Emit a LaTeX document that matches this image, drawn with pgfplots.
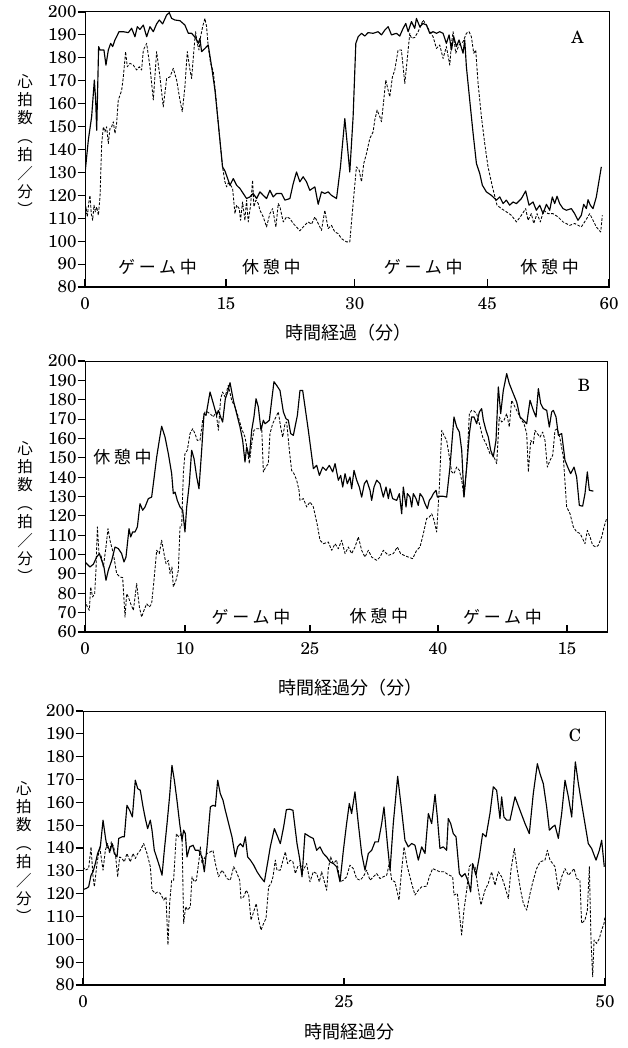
\documentclass[border=0pt]{standalone}
\usepackage{fontspec}
\setmainfont{TeX Gyre Schola}
\newfontfamily\jp{Noto Sans CJK JP}
\newfontfamily\jpw{Noto Sans CJK JP}[LetterSpace=22]
\usepackage{pgfplots}
\pgfplotsset{compat=1.18}

\pgfplotsset{
  panel/.style={
    scale only axis,
    axis line style={line width=1pt},
    xtick pos=bottom, ytick pos=left,
    xtick align=inside, ytick align=outside,
    major tick length=7.5pt,
    every tick/.style={line width=1.1pt, black},
    ytick distance=10,
    /pgf/number format/assume math mode=true,
    tick label style={font=\fontsize{17}{18}\selectfont},
    xticklabel style={yshift=-7pt},
    yticklabel style={xshift=2.5pt},
    clip=true,
  },
}
\tikzset{
  hr/.style={black, line width=1.15pt, line join=round},
  hd/.style={black, line width=0.85pt, dash pattern=on 2.8pt off 1.6pt, line join=round},
  jlab/.style={font=\jpw\fontsize{17}{18}\selectfont, inner sep=0pt},
}

\newcommand\ylab[1]{\node[font=\jp\fontsize{15.5}{18.4}\selectfont, align=center, inner sep=0pt] at #1 {心\\拍\\数\\︵\\拍\\／\\分\\︶};}

\begin{document}
\begin{tikzpicture}
\useasboundingbox (0pt,0pt) rectangle (627pt,-1048pt);

% ---------------- A ----------------
\begin{axis}[panel, at={(85pt,-287pt)}, anchor=south west,
  width=524pt, height=275pt,
  xmin=0, xmax=60, ymin=80, ymax=200,
  xtick={0,16.14,30.89,46.08,60}, xticklabels={0,15,30,45,60}]
\addplot[hr] coordinates {
(0.00,129.5)(0.38,144.1)(0.76,154.3)(1.07,170.3)(1.22,161.6)(1.34,148.4)(1.56,184.9)(1.72,183.4)
(2.17,183.4)(2.40,176.8)(2.67,183.4)(2.94,186.3)(3.17,184.9)(3.43,187.8)(3.62,189.2)(3.89,191.4)
(4.39,191.4)(4.96,191.0)(5.34,192.9)(5.72,189.2)(5.99,193.6)(6.29,192.4)(6.68,194.3)(7.06,189.2)
(7.44,193.6)(7.82,191.4)(8.20,194.8)(8.51,196.5)(8.89,194.8)(9.35,198.7)(9.65,199.7)(9.92,197.2)
(10.30,196.5)(10.87,196.2)(11.44,194.3)(11.83,190.7)(12.21,190.7)(12.70,188.5)(12.97,186.3)(13.16,188.5)
(13.35,182.7)(13.73,184.1)(14.11,185.6)(14.50,176.1)(14.88,165.9)(15.26,151.4)(15.75,132.4)(16.02,130.7)
(16.40,126.6)(16.59,124.4)(16.98,127.3)(17.36,124.4)(17.74,123.0)(18.12,120.8)(18.50,118.6)(18.88,119.3)
(19.26,120.8)(19.65,118.6)(20.03,121.5)(20.41,120.0)(20.79,118.6)(21.17,122.2)(21.55,119.3)(21.93,120.8)
(22.51,120.8)(22.89,117.9)(23.46,118.6)(23.84,125.1)(24.22,130.2)(24.60,125.9)(24.98,128.1)(25.36,125.9)
(25.74,122.2)(26.32,123.7)(26.70,116.1)(27.08,121.5)(27.46,120.8)(27.84,121.5)(28.22,120.0)(28.80,118.6)
(29.25,132.4)(29.75,153.5)(30.02,142.6)(30.32,130.2)(30.70,154.3)(31.01,186.3)(31.28,189.2)(31.66,190.7)
(32.04,189.5)(32.42,191.0)(32.99,190.7)(33.56,191.4)(33.95,190.0)(34.33,192.1)(34.71,193.6)(35.09,190.0)
(35.66,190.7)(36.04,189.5)(36.43,192.9)(36.73,195.0)(37.00,191.4)(37.38,195.8)(37.76,192.9)(37.95,197.2)
(38.33,193.6)(38.71,195.0)(39.10,194.3)(39.48,190.7)(39.86,191.4)(40.24,190.7)(40.62,191.4)(41.00,190.7)
(41.38,186.3)(41.69,190.0)(41.96,183.4)(42.22,189.2)(42.53,184.9)(42.83,187.8)(43.29,182.0)(43.48,187.8)
(43.67,176.1)(44.05,161.6)(44.44,147.0)(44.82,133.9)(45.20,129.5)(45.50,124.4)(45.96,121.5)(46.53,120.0)
(47.11,117.9)(47.49,119.3)(47.87,116.4)(48.25,117.9)(48.63,115.7)(49.01,117.1)(49.40,116.4)(49.97,118.6)
(50.46,121.9)(50.84,115.7)(51.30,117.1)(51.68,113.5)(52.07,115.7)(52.45,112.0)(52.83,116.1)(53.21,113.5)
(53.51,119.3)(53.78,116.4)(54.05,119.6)(54.35,116.4)(54.74,114.2)(55.12,113.5)(55.69,114.2)(56.07,112.0)
(56.45,109.1)(56.83,111.3)(57.10,116.1)(57.41,114.2)(57.60,118.1)(57.86,115.7)(58.17,114.2)(58.55,119.3)
(59.12,132.4)
};
\addplot[hd] coordinates {
(0.00,106.2)(0.11,115.0)(0.27,110.6)(0.42,116.4)(0.57,120.0)(0.72,112.0)(0.88,109.1)(1.03,115.7)
(1.18,112.8)(1.34,115.0)(1.53,111.3)(1.72,119.3)(1.91,142.6)(2.10,149.9)(2.29,147.7)(2.48,149.9)
(2.67,142.6)(2.86,149.2)(3.05,149.9)(3.24,152.1)(3.43,147.0)(3.62,151.4)(3.81,161.6)(4.01,163.7)
(4.20,165.9)(4.39,171.7)(4.65,182.7)(4.84,176.1)(5.15,177.6)(5.53,176.8)(5.91,174.7)(6.22,176.1)
(6.48,174.7)(6.68,183.4)(7.06,186.3)(7.44,176.1)(7.82,161.6)(8.20,182.7)(8.58,171.7)(8.96,158.6)
(9.35,171.0)(9.73,171.7)(10.11,175.4)(10.49,170.3)(10.87,161.6)(11.14,156.5)(11.44,167.4)(11.71,182.7)
(12.02,174.7)(12.21,171.0)(12.47,183.4)(12.66,191.4)(12.86,186.3)(13.05,183.4)(13.24,189.2)(13.47,193.6)
(13.73,197.2)(13.92,193.6)(14.11,184.9)(14.38,177.6)(14.69,174.0)(14.99,163.0)(15.37,147.0)(15.75,132.4)
(16.02,125.9)(16.21,123.7)(16.40,125.4)(16.67,124.4)(16.90,123.0)(17.17,112.0)(17.36,115.7)(17.66,114.2)
(17.81,109.1)(18.04,117.1)(18.31,109.1)(18.50,117.9)(18.69,108.4)(18.96,115.7)(19.19,126.6)(19.34,115.0)
(19.57,117.9)(19.84,116.4)(20.03,113.5)(20.41,110.6)(20.79,106.2)(21.17,112.0)(21.48,114.2)(21.86,106.2)
(22.13,116.4)(22.32,115.0)(22.70,108.4)(23.08,110.6)(23.46,109.9)(23.84,107.7)(24.22,106.2)(24.60,104.5)
(24.98,106.2)(25.55,108.4)(25.94,107.4)(26.32,110.6)(26.70,107.7)(27.08,104.7)(27.46,113.5)(27.84,105.5)
(28.22,106.9)(28.61,104.0)(28.99,103.3)(29.37,101.1)(29.94,99.7)(30.32,99.7)(30.70,116.4)(31.08,132.4)
(31.39,131.0)(31.66,125.9)(31.92,133.9)(32.23,138.2)(32.61,144.8)(32.99,147.7)(33.18,152.8)(33.45,157.2)
(33.76,154.3)(33.95,152.1)(34.21,161.6)(34.44,170.3)(34.71,165.9)(34.90,163.0)(35.20,171.7)(35.47,174.7)
(35.85,183.4)(36.23,183.4)(36.62,168.8)(37.00,183.4)(37.19,190.7)(37.38,188.5)(37.76,188.9)(38.14,191.4)
(38.41,193.6)(38.71,196.5)(39.10,194.3)(39.48,191.4)(39.86,189.2)(40.24,184.1)(40.62,185.6)(41.00,179.7)
(41.38,184.9)(41.77,176.8)(41.96,186.3)(42.15,191.4)(42.45,182.0)(42.83,185.6)(43.29,187.0)(43.67,190.7)
(43.98,191.4)(44.24,189.2)(44.51,182.0)(44.74,183.4)(45.01,168.8)(45.39,154.3)(45.77,142.6)(46.15,132.4)
(46.65,123.7)(47.18,115.7)(47.68,114.2)(48.25,112.8)(48.82,111.3)(49.40,108.4)(49.97,111.3)(50.46,114.2)
(50.73,109.1)(51.11,112.0)(51.38,107.7)(51.76,112.0)(52.14,108.4)(52.52,113.5)(53.02,112.0)(53.59,112.0)
(54.16,110.6)(54.74,108.4)(55.50,106.9)(56.07,107.7)(56.83,106.2)(57.33,109.1)(57.79,112.0)(58.17,109.1)
(58.55,106.2)(59.05,104.0)(59.24,111.3)
};
\node[jlab] at (axis cs:8.30,88.7) {ゲーム中};
\node[jlab] at (axis cs:21.34,88.7) {休憩中};
\node[jlab] at (axis cs:38.74,88.7) {ゲーム中};
\node[jlab] at (axis cs:53.2,88.7) {休憩中};
\node[font=\fontsize{17}{18}\selectfont] at (axis cs:56.4,189.1) {A};
\draw[line width=2pt] (rel axis cs:0,1) -- (rel axis cs:0,0) -- (rel axis cs:1,0);
\end{axis}
\ylab{(25pt,-145pt)}
\node[font=\jp\fontsize{18}{19}\selectfont] at (348pt,-333pt) {時間経過（分）};

% ---------------- B ----------------
\begin{axis}[panel, at={(85pt,-632pt)}, anchor=south west,
  width=522pt, height=271pt,
  xmin=0, xmax=60, ymin=60, ymax=200,
  xtick={0,11.49,25.86,40.57,55.40}, xticklabels={0,10,25,40,15}]
\addplot[hr] coordinates {
(0.00,96.2)(0.57,93.6)(0.96,95.0)(1.34,98.7)(1.65,100.5)(1.92,97.0)(2.18,93.6)(2.41,86.7)
(2.68,91.9)(3.07,97.0)(3.45,103.9)(3.83,103.1)(4.21,100.5)(4.48,96.2)(4.71,98.7)(5.06,113.4)
(5.25,109.1)(5.48,111.7)(5.75,111.7)(6.02,114.3)(6.32,126.3)(6.63,122.9)(6.90,124.6)(7.28,128.9)
(7.66,129.7)(7.93,139.2)(8.24,150.4)(8.54,159.0)(8.81,166.3)(9.20,160.7)(9.58,152.1)(9.96,141.8)
(10.15,131.5)(10.35,132.3)(10.61,128.0)(10.92,124.6)(11.23,122.9)(11.49,111.7)(11.69,124.6)(11.99,136.6)
(12.26,153.9)(12.53,149.6)(12.84,140.1)(13.10,134.0)(13.41,153.9)(13.68,172.8)(13.91,171.9)(14.37,184.0)
(14.75,178.0)(15.13,171.9)(15.33,174.5)(15.59,171.1)(15.82,168.5)(16.13,180.5)(16.40,184.0)(16.67,188.8)
(17.05,179.7)(17.43,172.8)(17.82,165.9)(18.12,159.0)(18.39,147.8)(18.58,155.6)(18.89,150.4)(19.16,164.2)
(19.42,171.1)(19.66,180.5)(19.92,176.3)(20.23,164.2)(20.50,169.4)(20.69,167.6)(20.96,168.5)(21.19,169.4)
(21.46,179.7)(21.72,189.3)(22.03,187.4)(22.41,184.8)(22.80,173.7)(23.10,170.2)(23.37,169.4)(23.64,162.5)
(23.95,161.6)(24.14,165.9)(24.41,171.9)(24.71,184.8)(25.02,184.8)(25.67,164.2)(26.25,144.4)(26.63,146.1)
(26.94,140.9)(27.32,145.2)(27.70,143.5)(28.08,146.1)(28.47,142.7)(28.74,147.0)(29.12,138.4)(29.39,140.9)
(29.62,134.9)(29.89,141.8)(30.15,136.6)(30.46,140.1)(30.65,134.0)(30.92,143.5)(31.23,138.4)(31.53,134.9)
(31.80,129.7)(32.11,136.6)(32.38,138.4)(32.76,133.2)(32.95,128.0)(33.22,134.9)(33.53,138.4)(33.91,136.6)
(34.29,129.7)(34.60,134.9)(34.87,128.9)(35.06,134.0)(35.36,128.9)(35.82,128.0)(36.13,131.5)(36.40,121.1)
(36.59,134.9)(36.90,124.6)(37.05,131.5)(37.36,129.7)(37.55,124.6)(37.74,131.5)(38.05,128.9)(38.31,125.4)
(38.51,131.5)(38.81,129.7)(39.08,126.3)(39.35,123.7)(39.58,128.0)(39.85,129.7)(40.04,131.5)(40.35,133.2)
(40.50,129.7)(40.80,130.1)(41.19,130.1)(41.57,129.7)(41.95,145.2)(42.41,171.1)(42.72,165.9)(43.03,163.3)
(43.30,153.9)(43.56,129.7)(43.87,145.2)(44.18,162.5)(44.44,171.1)(44.71,171.1)(45.02,167.6)(45.33,173.7)
(45.59,175.4)(45.79,169.4)(46.09,164.2)(46.36,160.7)(46.63,153.9)(46.93,150.4)(47.24,159.0)(47.51,186.6)
(47.78,172.8)(48.08,184.8)(48.28,189.2)(48.47,193.5)(48.77,188.3)(49.23,183.1)(49.62,178.8)(50.00,171.1)
(50.38,169.4)(50.77,167.6)(51.15,179.7)(51.53,174.5)(51.84,171.1)(52.11,185.7)(52.38,178.0)(52.68,175.4)
(53.07,174.5)(53.37,165.9)(53.64,173.7)(53.83,174.5)(54.14,171.1)(54.41,161.6)(54.79,162.5)(55.17,148.7)
(55.56,144.4)(55.82,141.8)(56.21,145.2)(56.51,140.1)(56.82,125.4)(57.20,125.0)(57.47,131.5)(57.74,142.7)
(57.97,133.2)(58.43,132.8)
};
\addplot[hd] coordinates {
(0.00,76.4)(0.27,72.9)(0.50,71.2)(0.65,83.3)(0.88,78.1)(1.11,79.8)(1.26,91.9)(1.42,114.3)
(1.61,100.5)(1.84,99.6)(2.11,93.6)(2.41,103.9)(2.64,113.4)(2.87,107.4)(3.26,100.5)(3.64,90.1)
(4.02,88.4)(4.33,88.1)(4.60,67.7)(4.79,79.8)(4.98,78.1)(5.25,74.6)(5.56,71.2)(5.94,85.0)
(6.25,72.9)(6.51,67.7)(6.78,71.2)(7.09,74.6)(7.39,72.9)(7.66,74.6)(7.93,86.7)(8.24,102.2)
(8.54,100.5)(8.81,107.4)(9.08,100.5)(9.31,95.3)(9.58,97.0)(9.77,90.1)(10.00,93.6)(10.15,83.3)
(10.46,86.7)(10.73,91.9)(10.92,114.3)(11.11,114.3)(11.30,141.8)(11.49,152.1)(11.76,153.9)(12.07,162.5)
(12.38,165.0)(12.64,162.5)(12.91,159.0)(13.22,159.0)(13.53,169.4)(13.79,173.7)(14.06,173.7)(14.37,172.8)
(14.75,171.1)(15.06,173.7)(15.33,164.2)(15.59,180.5)(15.82,184.0)(16.09,181.4)(16.47,187.4)(16.86,179.7)
(17.24,176.3)(17.62,171.1)(18.01,165.0)(18.39,160.7)(18.66,153.9)(18.89,147.0)(19.16,157.3)(19.42,164.2)
(19.73,165.0)(20.04,165.0)(20.31,165.9)(20.50,142.7)(20.77,145.2)(21.07,147.0)(21.26,162.5)(21.57,167.6)
(21.95,171.1)(22.22,173.7)(22.49,165.9)(22.72,160.7)(22.99,167.6)(23.18,168.5)(23.49,153.9)(23.75,143.5)
(24.02,141.8)(24.33,138.4)(24.60,133.2)(24.71,128.0)(25.10,128.9)(25.48,124.6)(25.86,127.2)(26.25,124.6)
(26.71,115.1)(27.01,107.4)(27.40,105.6)(27.97,106.5)(28.35,102.2)(28.74,105.6)(29.12,103.0)(29.50,107.4)
(29.89,100.5)(30.27,103.9)(30.65,100.5)(31.03,103.9)(31.42,109.1)(31.80,102.2)(32.18,98.7)(32.57,102.2)
(32.95,98.7)(33.53,97.0)(33.91,98.7)(34.29,102.2)(34.87,99.6)(35.44,100.5)(35.90,103.9)(36.28,100.5)
(36.67,99.6)(37.17,98.7)(37.66,97.9)(38.12,102.2)(38.51,103.9)(38.89,110.8)(39.27,118.6)(39.58,119.4)
(39.85,121.1)(40.12,117.7)(40.42,111.7)(40.73,134.9)(41.00,164.2)(41.26,161.6)(41.57,159.0)(41.88,150.4)
(42.15,142.7)(42.41,141.8)(42.72,145.2)(43.03,143.5)(43.30,138.4)(43.56,129.7)(43.87,145.2)(44.18,172.8)
(44.44,174.5)(44.71,174.2)(45.02,172.8)(45.33,167.6)(45.71,160.7)(46.09,157.3)(46.55,152.1)(46.93,151.3)
(47.32,147.0)(47.62,171.1)(47.89,168.5)(48.16,169.4)(48.47,172.8)(48.77,165.9)(49.04,179.7)(49.42,176.3)
(49.81,172.8)(50.19,169.4)(50.46,167.6)(50.77,162.5)(50.96,142.7)(51.23,159.0)(51.53,157.3)(51.72,164.2)
(51.99,162.5)(52.30,160.7)(52.61,163.3)(52.87,159.0)(53.14,145.2)(53.45,148.7)(53.76,151.3)(54.02,164.2)
(54.29,165.0)(54.60,159.9)(54.98,150.4)(55.36,124.6)(55.75,121.1)(56.13,114.3)(56.51,111.7)(56.90,110.9)
(57.20,108.2)(57.47,105.6)(57.74,112.5)(58.05,109.1)(58.35,104.8)(58.74,103.9)(59.00,104.8)(59.39,109.1)
(59.66,114.3)(59.96,118.6)
};
\node[jlab] at (axis cs:4.31,150.4) {休憩中};
\node[jlab] at (axis cs:19.08,67.7) {ゲーム中};
\node[jlab] at (axis cs:33.79,68.1) {休憩中};
\node[jlab] at (axis cs:47.99,67.7) {ゲーム中};
\node[font=\fontsize{17}{18}\selectfont] at (axis cs:57.36,187.4) {B};
\draw[line width=2pt] (rel axis cs:0,1) -- (rel axis cs:0,0) -- (rel axis cs:1,0);
\end{axis}
\ylab{(25pt,-512pt)}
\node[font=\jp\fontsize{18}{19}\selectfont] at (350pt,-688pt) {時間経過分（分）};

% ---------------- C ----------------
\begin{axis}[panel, at={(83pt,-985pt)}, anchor=south west,
  width=522pt, height=274pt,
  xmin=0, xmax=50, ymin=80, ymax=200,
  xtick={0,25,50}]
\addplot[hr] coordinates {
(0.00,121.8)(0.32,122.3)(0.54,123.0)(0.77,128.1)(0.96,129.6)(1.18,133.2)(1.40,137.6)(1.66,140.5)
(1.92,152.2)(2.14,144.9)(2.30,140.5)(2.62,139.0)(2.78,142.0)(3.00,137.6)(3.26,136.1)(3.42,144.2)
(3.74,144.9)(3.96,144.9)(4.21,158.7)(4.47,156.5)(4.73,153.6)(5.01,169.7)(5.24,166.0)(5.49,165.3)
(5.75,158.0)(5.97,152.9)(6.19,148.5)(6.45,152.2)(6.61,147.8)(6.83,139.0)(7.09,135.4)(7.34,131.8)
(7.57,128.1)(7.79,139.0)(8.05,150.7)(8.30,162.9)(8.52,176.2)(8.75,169.7)(9.00,160.9)(9.26,150.7)
(9.48,143.4)(9.64,147.8)(9.80,146.3)(9.96,136.1)(10.22,140.5)(10.54,141.2)(10.76,139.0)(11.08,139.0)
(11.40,136.1)(11.62,129.6)(11.88,140.5)(12.20,158.0)(12.45,158.7)(12.68,158.3)(12.90,169.7)(13.15,163.8)
(13.41,160.9)(13.63,156.5)(13.95,150.7)(14.27,144.9)(14.59,136.1)(14.81,140.5)(15.07,141.9)(15.33,140.5)
(15.55,144.9)(15.77,136.1)(16.03,134.7)(16.35,132.5)(16.67,129.6)(16.99,127.4)(17.37,125.2)(17.62,131.8)
(17.94,140.5)(18.33,148.5)(18.65,144.9)(18.90,141.9)(19.22,149.3)(19.48,156.8)(19.80,157.0)(20.11,156.5)
(20.50,141.9)(20.75,135.4)(20.98,127.4)(21.26,146.3)(21.74,144.9)(22.06,144.2)(22.38,139.0)(22.70,140.5)
(23.02,137.6)(23.34,136.1)(23.66,133.9)(23.98,133.2)(24.30,131.8)(24.62,125.2)(24.94,139.0)(25.25,150.7)
(25.51,159.5)(25.73,155.1)(26.05,164.6)(26.37,150.7)(26.69,137.6)(27.01,130.3)(27.33,137.6)(27.65,139.0)
(27.97,142.7)(28.29,142.7)(28.61,150.7)(28.83,158.0)(29.15,142.0)(29.41,130.3)(29.72,150.7)(30.14,171.4)
(30.52,156.5)(30.84,143.4)(31.16,140.5)(31.48,142.0)(31.80,141.2)(32.12,134.7)(32.44,140.5)(32.76,137.6)
(33.08,155.1)(33.40,150.7)(33.72,163.5)(33.94,153.6)(34.19,139.8)(34.51,140.5)(34.83,139.0)(34.99,152.9)
(35.22,150.7)(35.47,146.3)(35.73,144.9)(36.05,128.8)(36.27,127.4)(36.59,128.8)(36.91,125.2)(37.13,120.8)
(37.32,133.2)(37.64,128.1)(37.96,136.1)(38.28,146.3)(38.60,144.9)(38.98,155.1)(39.30,166.8)(39.62,165.3)
(39.94,152.9)(40.10,162.4)(40.32,153.6)(40.58,152.2)(40.90,152.2)(41.38,162.4)(41.86,156.5)(42.34,150.7)
(42.75,146.3)(43.13,163.8)(43.52,176.9)(43.77,172.6)(44.09,168.2)(44.41,158.0)(44.67,147.8)(44.99,149.3)
(45.21,150.0)(45.53,144.2)(45.85,155.1)(46.17,169.7)(46.49,162.4)(46.81,153.6)(47.16,177.7)(47.45,168.2)
(47.76,159.5)(48.08,150.7)(48.40,141.9)(48.72,139.8)(49.14,134.7)(49.46,139.0)(49.68,143.4)(49.93,131.8)
};
\addplot[hd] coordinates {
(0.00,131.8)(0.22,130.3)(0.54,131.0)(0.77,140.5)(0.96,127.4)(1.09,123.0)(1.34,133.2)(1.60,140.5)
(1.92,130.3)(2.14,139.0)(2.36,142.0)(2.55,137.6)(2.71,142.7)(2.94,140.5)(3.13,136.1)(3.32,127.4)
(3.51,136.1)(3.74,135.4)(3.96,133.9)(4.21,137.6)(4.53,133.9)(4.79,137.6)(5.01,135.4)(5.24,137.6)
(5.49,139.0)(5.81,142.0)(6.13,137.6)(6.45,131.8)(6.61,121.6)(6.93,120.1)(7.15,120.8)(7.41,120.1)
(7.73,117.2)(7.95,118.6)(8.14,97.5)(8.30,115.7)(8.49,125.9)(8.68,125.9)(8.94,146.3)(9.16,144.9)
(9.48,146.3)(9.64,107.0)(9.83,114.3)(10.03,112.8)(10.28,114.3)(10.44,127.4)(10.66,125.2)(10.86,125.9)
(11.11,134.7)(11.24,140.5)(11.40,133.2)(11.62,135.4)(11.88,137.6)(12.20,138.3)(12.45,139.0)(12.68,133.2)
(12.99,127.4)(13.31,130.3)(13.54,128.8)(13.79,126.6)(14.11,125.9)(14.43,131.8)(14.69,129.6)(15.01,125.9)
(15.13,117.9)(15.39,118.6)(15.64,121.5)(15.87,119.4)(16.09,108.4)(16.35,112.1)(16.60,115.7)(16.83,108.4)
(17.05,104.1)(17.30,107.0)(17.53,109.2)(17.78,123.0)(18.01,124.5)(18.20,127.4)(18.42,134.7)(18.58,130.3)
(18.90,130.3)(19.16,134.7)(19.38,138.3)(19.60,133.2)(19.86,134.7)(20.11,133.9)(20.34,128.8)(20.56,131.8)
(20.82,132.5)(21.10,130.3)(21.42,133.2)(21.74,125.2)(22.06,129.6)(22.38,128.8)(22.64,125.2)(22.86,129.6)
(23.08,125.9)(23.34,121.5)(23.50,131.0)(23.72,136.1)(23.98,133.2)(24.30,134.7)(24.62,125.2)(24.94,125.9)
(25.25,127.4)(25.57,132.5)(25.89,131.0)(26.21,126.6)(26.53,125.9)(26.85,127.4)(27.17,130.3)(27.49,125.9)
(27.81,127.4)(28.13,128.8)(28.45,126.6)(28.77,127.4)(29.09,128.1)(29.34,133.2)(29.57,125.9)(29.88,125.2)
(30.27,117.2)(30.52,130.3)(30.75,140.5)(31.07,131.8)(31.48,124.5)(31.80,119.4)(32.12,121.5)(32.44,123.0)
(32.92,123.3)(33.17,127.4)(33.49,131.0)(33.81,130.3)(34.19,129.6)(34.58,129.6)(34.83,128.8)(35.09,128.1)
(35.41,127.4)(35.54,119.4)(35.86,120.1)(36.05,111.3)(36.27,101.9)(36.49,112.8)(36.75,121.5)(37.00,131.8)
(37.23,133.2)(37.55,131.8)(37.87,121.5)(38.12,115.0)(38.50,121.5)(38.82,124.5)(39.14,129.6)(39.46,123.7)
(39.78,129.6)(40.10,127.4)(40.32,124.5)(40.74,117.9)(40.99,130.3)(41.31,139.8)(41.60,130.3)(41.92,121.5)
(42.18,115.7)(42.50,112.8)(42.82,120.1)(43.13,125.9)(43.45,131.0)(43.77,133.9)(44.25,134.7)(44.48,139.0)
(44.73,134.7)(44.99,133.2)(45.21,131.8)(45.53,121.5)(45.85,127.4)(46.17,131.0)(46.49,128.1)(46.81,129.6)
(47.03,131.0)(47.29,126.6)(47.60,125.9)(47.76,107.0)(48.08,108.4)(48.31,112.8)(48.50,131.8)(48.66,99.7)
(48.82,83.6)(48.95,99.7)(49.20,98.2)(49.46,100.4)(49.68,104.1)(49.91,107.0)(49.99,109.9)
};
\node[font=\fontsize{17}{18}\selectfont] at (axis cs:47.13,189.4) {C};
\draw[line width=2pt] (rel axis cs:0,1) -- (rel axis cs:0,0) -- (rel axis cs:1,0);
\end{axis}
\ylab{(24pt,-852pt)}
\node[font=\jp\fontsize{18}{19}\selectfont] at (349pt,-1032pt) {時間経過分};
\end{tikzpicture}
\end{document}
